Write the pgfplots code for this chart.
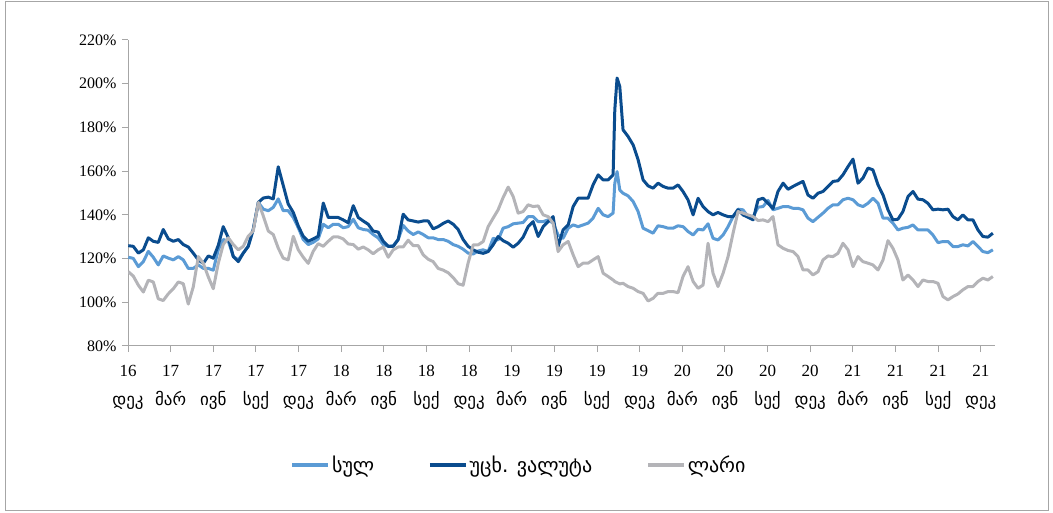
\documentclass[border=0pt]{standalone}
\usepackage{fontspec}
\setmainfont{Liberation Serif}
\newfontfamily\geo{DejaVu Sans}
\usepackage{pgfplots}
\usepackage{pgfplotstable}
\pgfplotsset{compat=1.18}
\definecolor{cL}{HTML}{5B9BD5}
\definecolor{cD}{HTML}{0A4C8E}
\definecolor{cG}{HTML}{B4B4B8}
\definecolor{axgray}{HTML}{A6A6A6}

\pgfplotstableread{
m L D G
0.02 120.6 125.9 114.0
0.37 120.1 125.6 112.0
0.73 116.3 122.5 107.8
1.08 118.6 124.0 104.7
1.43 123.3 129.5 110.1
1.78 120.6 127.9 109.3
2.13 117.1 127.4 101.6
2.48 121.2 133.3 100.8
2.84 120.2 129.0 103.9
3.19 119.4 127.9 106.2
3.54 120.9 128.7 109.3
3.89 119.4 126.4 108.5
4.24 115.5 125.3 99.2
4.59 115.5 122.5 107.0
4.95 117.1 119.4 120.9
5.30 115.5 117.8 117.8
5.65 115.5 121.2 111.6
6.00 114.7 120.2 106.2
6.35 124.0 126.0 117.8
6.70 128.7 134.6 126.4
7.06 127.9 129.5 129.5
7.41 120.9 120.9 126.4
7.76 119.4 118.6 124.0
8.11 122.5 122.5 125.6
8.46 125.6 125.6 130.2
8.81 133.3 133.3 132.6
9.17 145.7 145.7 145.7
9.52 142.6 147.7 139.5
9.87 141.9 148.1 132.6
10.22 143.4 147.3 131.0
10.57 147.3 162.0 124.8
10.92 141.9 153.5 120.2
11.27 141.9 145.0 119.4
11.63 138.8 141.1 130.2
11.98 134.1 134.9 124.0
12.33 128.7 130.2 120.6
12.68 126.4 127.9 117.8
13.03 127.4 129.0 123.3
13.38 129.0 130.2 126.8
13.74 135.7 145.4 125.6
14.09 134.1 138.8 127.9
14.44 135.7 138.8 129.9
14.79 135.7 138.8 129.9
15.14 134.1 137.7 129.0
15.49 134.6 136.4 126.7
15.85 138.0 144.2 126.4
16.20 134.1 138.8 124.3
16.55 133.3 137.2 125.3
16.90 133.0 135.7 124.0
17.25 131.0 132.6 122.2
17.60 129.5 132.1 124.0
17.96 126.4 127.9 125.3
18.31 125.6 125.6 120.6
18.66 125.9 125.6 124.0
19.01 128.7 128.7 125.3
19.36 135.2 140.3 125.3
19.71 132.6 137.7 128.4
20.07 131.0 137.2 125.9
20.42 132.2 136.7 125.9
20.77 131.0 137.2 121.7
21.12 129.5 137.2 119.7
21.47 129.5 133.6 118.6
21.82 128.7 134.6 115.5
22.18 128.7 136.1 114.7
22.53 127.9 137.2 113.5
22.88 126.4 135.7 111.3
23.23 125.6 133.3 108.5
23.58 124.3 128.7 107.8
23.93 122.5 125.6 118.0
24.29 122.1 124.0 126.3
24.64 123.5 122.9 126.3
24.99 124.0 122.4 127.8
25.34 123.2 123.2 134.6
25.69 129.3 126.3 138.5
26.04 128.5 130.1 142.3
26.39 133.9 128.2 147.9
26.75 134.6 127.0 152.7
27.10 135.9 125.2 148.4
27.45 136.2 127.0 140.8
27.80 136.5 129.8 141.5
28.15 139.2 134.6 144.6
28.50 139.2 136.9 143.8
28.86 136.9 130.1 144.1
29.21 136.9 134.6 140.0
29.56 137.7 136.9 139.2
29.91 136.2 139.2 136.2
30.26 130.8 125.5 123.2
30.61 129.3 133.1 126.3
30.97 133.9 135.4 127.8
31.32 135.4 143.8 121.7
31.67 134.6 147.6 116.3
32.02 135.4 147.6 117.9
32.37 136.2 147.6 117.9
32.72 138.5 153.7 119.4
33.08 143.0 158.3 120.9
33.43 140.0 156.0 113.3
33.78 139.2 156.0 111.8
34.13 140.8 158.3 110.2
34.25 154.5 188.1 109.5
34.41 159.8 202.6 109.0
34.60 151.4 198.7 108.4
34.83 149.9 178.9 108.7
35.18 148.7 175.9 107.2
35.54 146.1 172.0 106.4
35.89 141.5 165.2 104.9
36.24 133.9 156.0 104.1
36.59 132.8 153.3 100.6
36.94 131.6 152.2 101.8
37.29 135.0 154.5 104.1
37.65 134.6 153.0 104.1
38.00 133.9 152.2 104.9
38.35 133.9 152.2 104.9
38.70 135.0 153.7 104.4
39.05 134.6 150.7 111.8
39.40 132.4 146.9 116.3
39.76 130.8 140.0 109.5
40.11 133.4 147.6 106.4
40.46 133.1 143.8 107.9
40.81 135.9 141.5 127.0
41.16 129.3 140.0 113.3
41.51 128.5 141.1 107.2
41.87 130.8 140.0 113.3
42.22 134.6 139.2 120.9
42.57 139.2 139.2 131.6
42.92 142.6 142.3 141.5
43.27 142.3 140.0 140.8
43.62 139.2 138.9 140.0
43.98 139.2 137.7 139.2
44.33 143.5 146.9 137.4
44.68 143.8 147.6 137.7
45.03 146.6 145.3 136.9
45.38 142.3 142.9 139.2
45.73 143.0 150.7 126.3
46.09 143.8 154.5 124.7
46.44 143.8 151.7 123.7
46.79 143.0 153.0 123.2
47.14 143.0 154.2 120.9
47.49 142.3 155.3 114.8
47.84 138.5 149.1 114.8
48.19 136.9 147.6 112.5
48.55 138.9 149.9 114.0
48.90 140.8 150.7 119.4
49.25 143.0 153.0 121.2
49.60 144.6 155.3 120.9
49.95 144.6 155.6 122.4
50.30 146.9 158.3 127.0
50.66 147.6 162.1 124.0
51.01 146.9 165.5 116.3
51.36 144.6 154.5 120.9
51.71 143.8 156.8 118.6
52.06 145.3 161.4 117.9
52.41 147.6 160.6 117.1
52.77 145.3 153.7 114.8
53.12 138.5 149.1 119.4
53.47 138.5 142.3 128.2
53.82 136.2 137.7 124.7
54.17 133.1 138.0 119.4
54.52 133.9 141.5 110.2
54.88 134.3 148.4 112.5
55.23 135.4 150.7 110.2
55.58 133.1 147.2 107.2
55.93 133.1 146.9 110.2
56.28 133.1 145.3 109.5
56.63 130.8 142.3 109.5
56.99 127.3 142.6 108.7
57.34 127.8 142.3 102.6
57.69 127.8 142.6 101.1
58.04 125.5 139.2 102.6
58.39 125.5 137.7 103.8
58.74 126.3 140.0 105.7
59.10 125.8 137.7 107.2
59.45 127.8 137.7 107.2
59.80 125.5 133.1 109.5
60.15 123.2 130.1 111.0
60.50 122.7 129.8 110.2
60.85 124.0 131.6 111.8
}\data

\begin{document}
\begin{tikzpicture}
\useasboundingbox (0bp,0bp) rectangle (1053bp,513bp);
\draw[axgray, line width=1bp] (5bp,2bp) rectangle (1048bp,511bp);
\begin{axis}[
  at={(128bp,167bp)}, anchor=south west,
  scale only axis, width=867bp, height=306bp,
  xmin=0, xmax=61, ymin=80, ymax=220,
  axis x line*=bottom, axis y line*=left,
  axis line style={axgray, line width=1bp},
  tick align=outside, major tick length=6bp,
  tick style={axgray, line width=1bp},
  xtick={0,3,...,60},
  xticklabels={{16\\{\geo დეკ}},{17\\{\geo მარ}},{17\\{\geo ივნ}},{17\\{\geo სექ}},
    {17\\{\geo დეკ}},{18\\{\geo მარ}},{18\\{\geo ივნ}},{18\\{\geo სექ}},
    {18\\{\geo დეკ}},{19\\{\geo მარ}},{19\\{\geo ივნ}},{19\\{\geo სექ}},
    {19\\{\geo დეკ}},{20\\{\geo მარ}},{20\\{\geo ივნ}},{20\\{\geo სექ}},
    {20\\{\geo დეკ}},{21\\{\geo მარ}},{21\\{\geo ივნ}},{21\\{\geo სექ}},
    {21\\{\geo დეკ}}},
  xticklabel style={align=center, font=\fontsize{17bp}{29bp}\selectfont, yshift=-10bp},
  ytick={80,100,...,220},
  yticklabel={\pgfmathprintnumber{\tick}\%},
  /pgf/number format/assume math mode=true,
  yticklabel style={font=\fontsize{16bp}{18bp}\selectfont, xshift=-2bp},
  legend columns=3,
  legend style={at={(0.451,-0.389)}, anchor=center, draw=none, fill=none,
    font=\fontsize{20bp}{22bp}\selectfont\geo,
    /tikz/every even column/.append style={column sep=52bp}},
  legend image code/.code={\draw[#1, line width=3.5bp] (0bp,0bp) -- (36bp,0bp);},
]
\addplot[cL, line width=3bp, line join=round] table[x=m, y=L] {\data};
\addlegendentry{სულ}
\addplot[cD, line width=3bp, line join=round] table[x=m, y=D] {\data};
\addlegendentry{უცხ. ვალუტა}
\addplot[cG, line width=3bp, line join=round] table[x=m, y=G] {\data};
\addlegendentry{ლარი}
\end{axis}
\end{tikzpicture}
\end{document}
